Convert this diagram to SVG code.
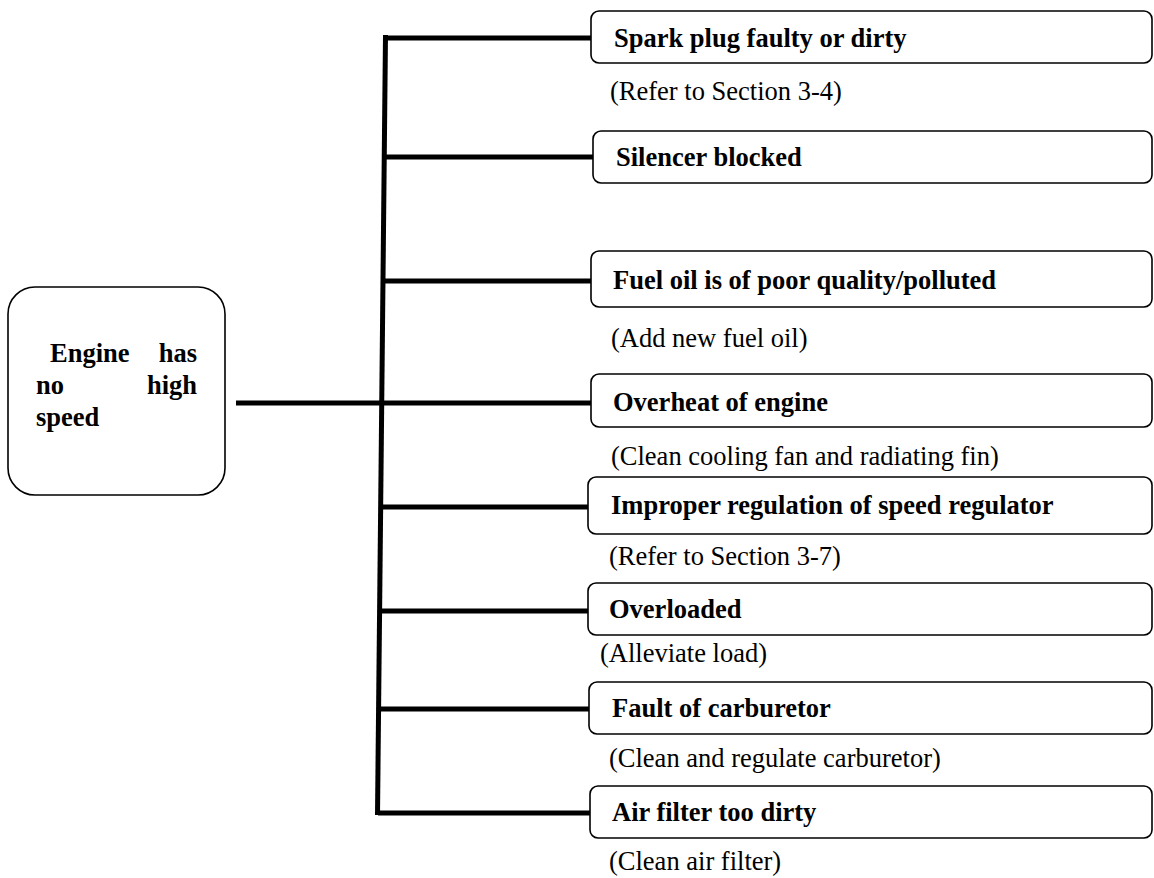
<svg xmlns="http://www.w3.org/2000/svg" width="1154" height="878" viewBox="0 0 1154 878">
<style>
.box{fill:#fff;stroke:#000;stroke-width:1.6}
.b{font-family:"Liberation Serif","Times New Roman",serif;font-weight:bold;font-size:26.5px;fill:#000}
.r{font-family:"Liberation Serif","Times New Roman",serif;font-size:26.5px;fill:#000}
.ln{stroke:#000;stroke-width:5;fill:none}
</style>
<rect width="1154" height="878" fill="#fff"/>
<g id="connectors">
<line class="ln" x1="385.5" y1="35" x2="377.5" y2="815"/>
<line class="ln" x1="236" y1="403" x2="381" y2="403"/>
<line class="ln" x1="385" y1="38" x2="591" y2="38"/>
<line class="ln" x1="384" y1="157" x2="593" y2="157"/>
<line class="ln" x1="383" y1="281" x2="591" y2="281"/>
<line class="ln" x1="381" y1="403" x2="591" y2="403"/>
<line class="ln" x1="380" y1="507" x2="588" y2="507"/>
<line class="ln" x1="379" y1="611" x2="588" y2="611"/>
<line class="ln" x1="378" y1="709" x2="589" y2="709"/>
<line class="ln" x1="378" y1="813" x2="590" y2="813"/>
</g>
<g id="root">
<rect class="box" x="8" y="287" width="217" height="208" rx="27" ry="27"/>
<text class="b" x="50" y="362">Engine</text>
<text class="b" x="197" y="362" text-anchor="end">has</text>
<text class="b" x="36" y="394">no</text>
<text class="b" x="197" y="394" text-anchor="end">high</text>
<text class="b" x="36" y="426">speed</text>
</g>
<g id="n1">
<rect class="box" x="591" y="11" width="561" height="52" rx="8"/>
<text class="b" x="614" y="47">Spark plug faulty or dirty</text>
<text class="r" x="610" y="100">(Refer to Section 3-4)</text>
</g>
<g id="n2">
<rect class="box" x="593" y="131" width="559" height="52" rx="8"/>
<text class="b" x="616" y="166">Silencer blocked</text>
</g>
<g id="n3">
<rect class="box" x="591" y="251" width="561" height="56" rx="8"/>
<text class="b" x="613" y="289">Fuel oil is of poor quality/polluted</text>
<text class="r" x="611" y="347">(Add new fuel oil)</text>
</g>
<g id="n4">
<rect class="box" x="591" y="374" width="561" height="53" rx="8"/>
<text class="b" x="613" y="411">Overheat of engine</text>
<text class="r" x="611" y="465">(Clean cooling fan and radiating fin)</text>
</g>
<g id="n5">
<rect class="box" x="588" y="477" width="564" height="57" rx="8"/>
<text class="b" x="611" y="514">Improper regulation of speed regulator</text>
<text class="r" x="609" y="565">(Refer to Section 3-7)</text>
</g>
<g id="n6">
<rect class="box" x="588" y="583" width="564" height="52" rx="8"/>
<text class="b" x="609" y="618">Overloaded</text>
<text class="r" x="600" y="662">(Alleviate load)</text>
</g>
<g id="n7">
<rect class="box" x="589" y="682" width="563" height="52" rx="8"/>
<text class="b" x="612" y="717">Fault of carburetor</text>
<text class="r" x="609" y="767">(Clean and regulate carburetor)</text>
</g>
<g id="n8">
<rect class="box" x="590" y="786" width="562" height="52" rx="8"/>
<text class="b" x="612" y="821">Air filter too dirty</text>
<text class="r" x="609" y="870">(Clean air filter)</text>
</g>
</svg>
